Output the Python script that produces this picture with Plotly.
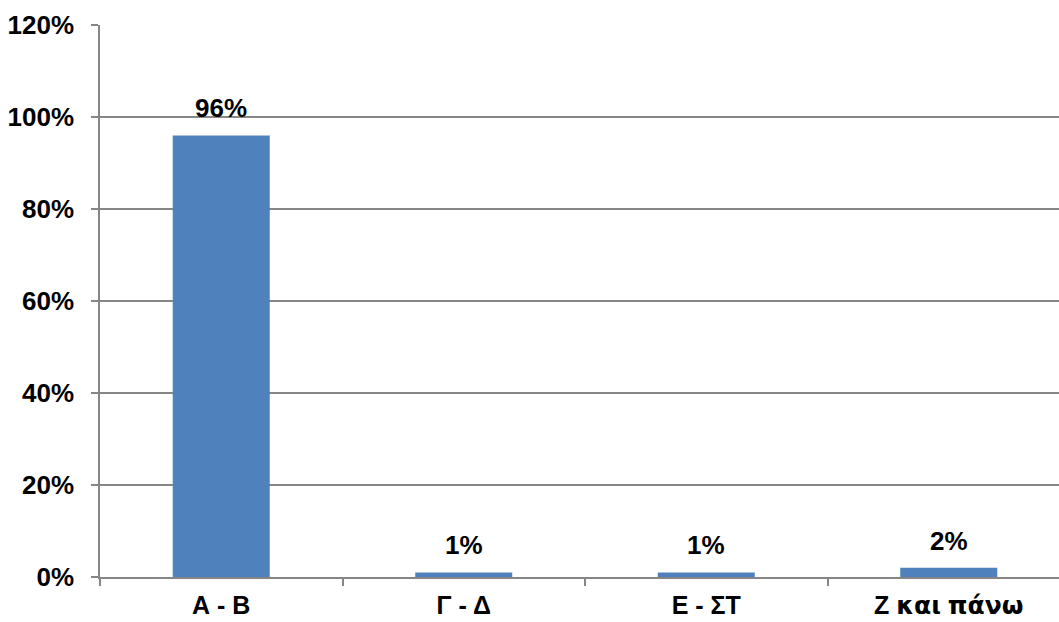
import plotly.graph_objects as go

categories = ["Α - Β", "Γ - Δ", "Ε - ΣΤ", "Ζ και πάνω"]
values = [96, 1, 1, 2]
labels = ["96%", "1%", "1%", "2%"]
y_ticks = [0, 20, 40, 60, 80, 100, 120]
y_tick_text = ["0%", "20%", "40%", "60%", "80%", "100%", "120%"]

font_family = "Liberation Sans, Arial, sans-serif"
fsize = 26
xsize = 25


def styled(label):
    # lowercase Greek in the reference is rendered with a wider fallback face
    words = label.split(" ")
    out = []
    for w in words:
        if any("\u03ac" <= ch <= "\u03ce" for ch in w):
            out.append("<span style='font-family:DejaVu Sans'>" + w + "</span>")
        else:
            out.append(w)
    return " ".join(out)


fig = go.Figure(go.Bar(
    x=categories, y=values,
    marker=dict(color="#4F81BD", line=dict(width=0)),
    width=0.4,
))

for c, v, t in zip(categories, values, labels):
    fig.add_annotation(
        x=c, y=v, text=t, showarrow=False, yanchor="bottom", yshift=10,
        font=dict(family=font_family, size=fsize, color="black", weight="bold"),
    )

fig.update_layout(
    width=1059, height=622,
    margin=dict(l=100, r=0, t=25, b=45),
    plot_bgcolor="white", paper_bgcolor="white",
    showlegend=False,
    font=dict(family=font_family, size=fsize, color="black"),
)
fig.update_xaxes(
    type="category", range=[-0.5, 3.4546],
    tickmode="array", tickvals=categories, ticktext=[styled(c) for c in categories],
    showline=True, linecolor="#868686", linewidth=1.5,
    ticks="outside", tickson="boundaries", ticklen=7, tickcolor="#868686", tickwidth=1.5,
    tickfont=dict(family=font_family, size=xsize, color="black", weight="bold"),
    ticklabelstandoff=5,
    showgrid=False,
)
fig.update_yaxes(
    range=[0, 120], tickvals=y_ticks, ticktext=y_tick_text,
    showline=True, linecolor="#868686", linewidth=1.5,
    ticks="outside", ticklen=7, tickcolor="#868686", tickwidth=1.5,
    showgrid=True, gridcolor="#868686", gridwidth=1.5,
    zeroline=False,
    tickfont=dict(family=font_family, size=fsize, color="black", weight="bold"),
    ticklabelstandoff=12,
)

fig.write_html("out.html", config={"displayModeBar": False},
               post_script="document.body.style.margin='0';")
